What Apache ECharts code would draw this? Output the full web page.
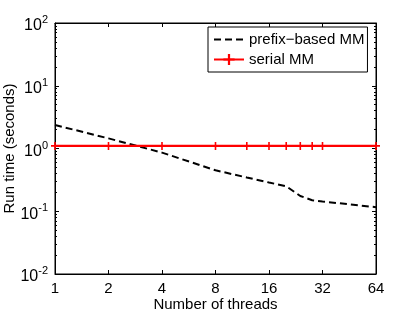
<!DOCTYPE html>
<html><head><meta charset="utf-8">
<script src="https://cdn.jsdelivr.net/npm/echarts@6/dist/echarts.min.js"></script>
<style>html,body{margin:0;padding:0;background:#fff}#c{width:415px;height:312px}</style>
</head><body><div id="c"></div>
<script>
const threads = [1, 2, 4, 8, 12, 16, 20, 24, 28, 32, 64];
const prefixMM = [2.37, 1.45, 0.86, 0.45, 0.345, 0.287, 0.25, 0.175, 0.15, 0.143, 0.116];
const serialMM = [1.1, 1.1, 1.1, 1.1, 1.1, 1.1, 1.1, 1.1, 1.1, 1.1, 1.1];
const xTicks = [1, 2, 4, 8, 16, 32, 64];
const yTicks = [0.01, 0.1, 1, 10, 100];
const yMinor = [];
for (let k = -2; k < 2; k++) for (let m = 2; m <= 9; m++) yMinor.push(+(m * Math.pow(10, k)).toPrecision(3));

const FONT = 'Liberation Sans';
const chart = echarts.init(document.getElementById('c'), null, {renderer: 'canvas'});
const baseX = {type: 'log', logBase: 2, min: 1, max: 64, gridIndex: 0, splitLine: {show: false}, minorTick: {show: false}};
const baseY = {type: 'log', logBase: 10, min: 0.01, max: 100, gridIndex: 0, splitLine: {show: false}, minorTick: {show: false}};
const plus = 'path://M4,0L6,0L6,4L10,4L10,6L6,6L6,10L4,10L4,6L0,6L0,4L4,4Z';
chart.setOption({
  animation: false,
  textStyle: {fontFamily: FONT},
  grid: {left: 55, right: 39, top: 23, bottom: 38, outerBoundsMode: 'none', containLabel: false,
         show: true, borderColor: '#000', borderWidth: 1, backgroundColor: 'transparent'},
  xAxis: [
    Object.assign({}, baseX, {position: 'bottom',
      name: 'Number of threads', nameLocation: 'middle', nameGap: 23, nameMoveOverlap: false,
      nameTextStyle: {fontSize: 15, color: '#000', fontFamily: FONT},
      axisLine: {show: true, lineStyle: {color: '#000', width: 1}},
      axisTick: {show: true, inside: true, length: 4, customValues: xTicks, lineStyle: {color: '#000'}},
      axisLabel: {show: true, customValues: xTicks, fontSize: 15, color: '#000', margin: 7, fontFamily: FONT}}),
    Object.assign({}, baseX, {position: 'top',
      axisLine: {show: true, lineStyle: {color: '#000', width: 1}},
      axisTick: {show: true, inside: true, length: 4, customValues: xTicks, lineStyle: {color: '#000'}},
      axisLabel: {show: false}})
  ],
  yAxis: [
    Object.assign({}, baseY, {position: 'left',
      name: 'Run time (seconds)', nameLocation: 'middle', nameGap: 38, nameRotate: 90, nameMoveOverlap: false,
      nameTextStyle: {fontSize: 15, color: '#000', fontFamily: FONT},
      axisLine: {show: true, lineStyle: {color: '#000', width: 1}},
      axisTick: {show: true, inside: true, length: 4, customValues: yTicks, lineStyle: {color: '#000'}},
      axisLabel: {show: true, customValues: yTicks, margin: 7, color: '#000',
        formatter: function (v) { return '{b|10}{s|' + Math.round(Math.log10(v)) + '}'; },
        rich: {b: {fontSize: 16, color: '#000', fontFamily: FONT, padding: [6, 0, 0, 0]},
               s: {fontSize: 11, color: '#000', fontFamily: FONT, padding: [0, 0, 6, 0]}}}}),
    Object.assign({}, baseY, {position: 'left',
      axisLine: {show: false},
      axisTick: {show: true, inside: true, length: 2, customValues: yMinor, lineStyle: {color: '#000'}},
      axisLabel: {show: false}}),
    Object.assign({}, baseY, {position: 'right',
      axisLine: {show: true, lineStyle: {color: '#000', width: 1}},
      axisTick: {show: true, inside: true, length: 4, customValues: yTicks, lineStyle: {color: '#000'}},
      axisLabel: {show: false}}),
    Object.assign({}, baseY, {position: 'right',
      axisLine: {show: false},
      axisTick: {show: true, inside: true, length: 2, customValues: yMinor, lineStyle: {color: '#000'}},
      axisLabel: {show: false}})
  ],
  legend: {
    orient: 'vertical', left: 208, top: 27, padding: [5, 3, 5, 5], itemGap: 5,
    itemWidth: 30, itemHeight: 14, backgroundColor: '#fff', borderColor: '#000', borderWidth: 1,
    textStyle: {fontSize: 15, color: '#000', fontFamily: FONT},
    data: ['prefix\u2212based MM', 'serial MM']
  },
  series: [
    {name: 'prefix\u2212based MM', type: 'line', xAxisIndex: 0, yAxisIndex: 0,
     data: threads.map((t, i) => [t, prefixMM[i]]), showSymbol: false, symbol: 'none',
     lineStyle: {color: '#000', width: 2, type: [7, 4]},
     itemStyle: {color: 'rgba(0,0,0,0)', borderWidth: 0}, z: 3},
    {name: 'serial MM', type: 'line', xAxisIndex: 0, yAxisIndex: 0,
     data: threads.map((t, i) => [t, serialMM[i]]), symbol: plus, symbolSize: 8,
     lineStyle: {color: '#ff0000', width: 2.2}, itemStyle: {color: '#ff0000'}, z: 4}
  ]
});
</script></body></html>
